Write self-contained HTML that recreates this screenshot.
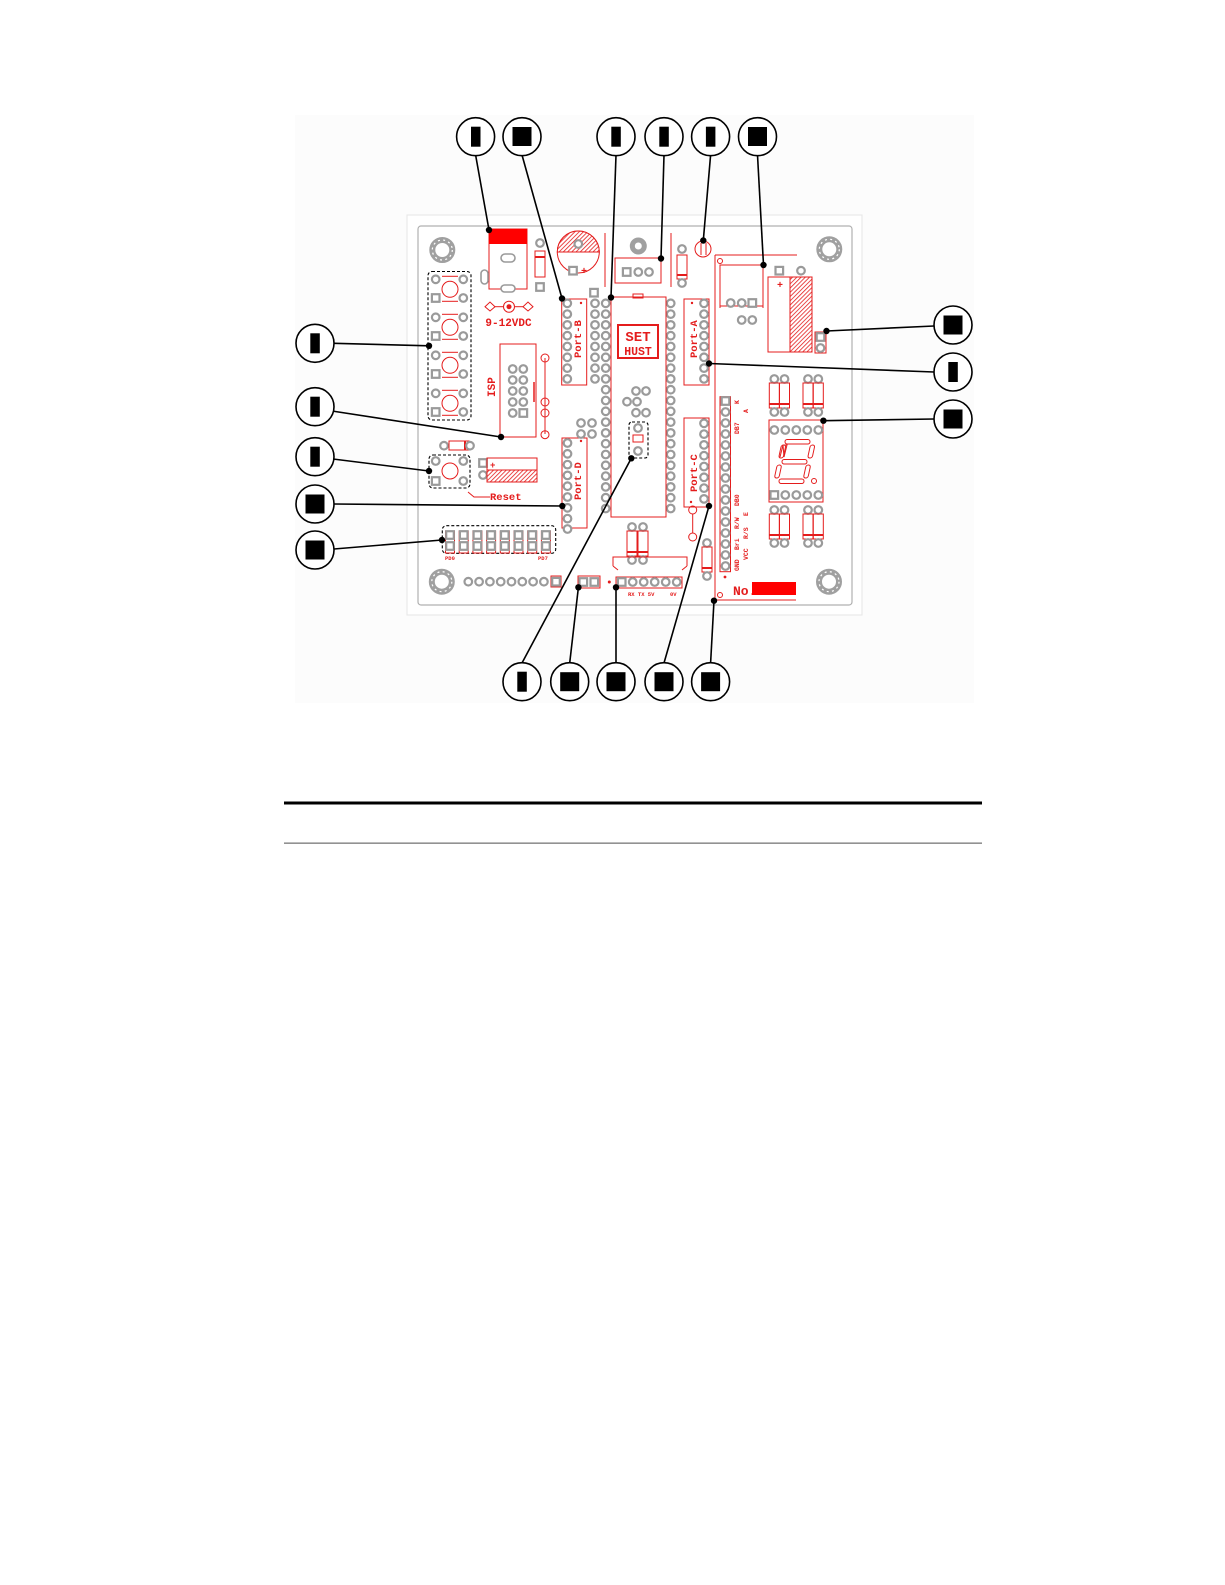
<!DOCTYPE html>
<html><head><meta charset="utf-8"><style>
html,body{margin:0;padding:0;background:#fff;width:1225px;height:1585px;overflow:hidden}
svg{position:absolute;left:0;top:0}
.pd{fill:#fff;stroke:#9a9a9a;stroke-width:2.2}
.r{fill:none;stroke:#e41c1c;stroke-width:1}
.rt{fill:#e41c1c;font-family:"Liberation Mono",monospace;font-weight:bold}
.cl{fill:#fff;stroke:#000;stroke-width:1.6}
.ln{stroke:#000;stroke-width:1.6;fill:none}
.dt{fill:#000}
</style></head><body>
<svg width="1225" height="1585" viewBox="0 0 1225 1585" xmlns="http://www.w3.org/2000/svg">
<defs>
<pattern id="h" width="3" height="3" patternUnits="userSpaceOnUse" patternTransform="rotate(45)"><rect width="3" height="3" fill="#fff"/><line x1="0" y1="0" x2="0" y2="3" stroke="#e41c1c" stroke-width="1.6"/></pattern>
<g id="p"><circle r="3.8" class="pd"/></g>
<g id="s"><rect x="-3.8" y="-3.8" width="7.6" height="7.6" class="pd"/></g>
<g id="col8"><use href="#p" y="0"/><use href="#p" y="10.8"/><use href="#p" y="21.6"/><use href="#p" y="32.4"/><use href="#p" y="43.2"/><use href="#p" y="54"/><use href="#p" y="64.8"/><use href="#p" y="75.6"/></g>
<g id="hole"><circle r="10" fill="none" stroke="#a0a0a0" stroke-width="6"/><circle r="10" fill="none" stroke="#fff" stroke-width="1.2" stroke-dasharray="2 3.3"/></g>
<g id="sw"><use href="#p" x="435.7" y="0"/><use href="#p" x="463.3" y="0"/><use href="#s" x="435.7" y="18.7"/><use href="#p" x="463.3" y="18.7"/><circle cx="450" cy="10" r="8" class="r"/><line x1="442" y1="-3" x2="458" y2="-3" class="r"/><line x1="442" y1="22" x2="458" y2="22" class="r"/></g>
<g id="dsw"><rect x="-4.5" y="-4" width="9" height="22" class="r"/><use href="#s" y="0"/><use href="#s" y="11"/></g>
<g id="res"><use href="#p" y="0"/><rect x="-5" y="4" width="10" height="25" class="r" fill="#fff"/><line x1="-5" y1="25" x2="5" y2="25" stroke="#e41c1c" stroke-width="2"/><use href="#p" y="33"/></g>
</defs>

<!-- image area -->
<rect x="295" y="115" width="679" height="588" fill="#fcfcfc"/>
<!-- board -->
<rect x="407" y="215" width="455" height="400" fill="#fff" stroke="#e6e6e6" stroke-width="1"/>
<rect x="418" y="226" width="434" height="379" rx="3" fill="#fff" stroke="#b0b0b0" stroke-width="1.2"/>

<!-- mount holes -->
<use href="#hole" x="442.3" y="250"/>
<use href="#hole" x="829.3" y="249.3"/>
<use href="#hole" x="441.8" y="581.7"/>
<use href="#hole" x="829" y="581.7"/>

<!-- 4 switches -->
<rect x="428" y="271.5" width="43" height="148.5" rx="4" fill="none" stroke="#000" stroke-width="1.1" stroke-dasharray="3 2"/>
<use href="#sw" y="279.3"/><use href="#sw" y="317.3"/><use href="#sw" y="355.3"/><use href="#sw" y="393.3"/>

<!-- reset -->
<use href="#p" x="444" y="445.7"/><rect x="449" y="441" width="20" height="9" class="r"/><line x1="465" y1="441" x2="465" y2="450" stroke="#e41c1c" stroke-width="2"/><use href="#p" x="470" y="445.7"/>
<rect x="429" y="455" width="41" height="33" rx="4" fill="none" stroke="#000" stroke-width="1.1" stroke-dasharray="3 2"/>
<use href="#p" x="435.7" y="461"/><use href="#p" x="463.3" y="461"/><use href="#s" x="435.7" y="481"/><use href="#p" x="463.3" y="481"/>
<circle cx="450" cy="471" r="8" class="r"/>
<path d="M468 492 L474 497 L490 497" class="r"/>
<text x="490" y="500" class="rt" font-size="10.5">Reset</text>
<!-- horizontal cap -->
<use href="#s" x="483" y="463"/><use href="#p" x="483" y="475"/>
<rect x="487" y="458" width="50" height="24" class="r"/><rect x="487" y="470" width="50" height="12" fill="url(#h)" stroke="#e41c1c" stroke-width="1"/>
<text x="490" y="468" class="rt" font-size="9" font-weight="normal">+</text>

<!-- power jack -->
<rect x="489" y="229" width="38" height="60" class="r"/>
<rect x="489" y="229" width="38" height="15" fill="#f00"/>
<rect x="501" y="254" width="14" height="8" rx="4" fill="#fff" stroke="#9a9a9a" stroke-width="1.6"/>
<rect x="481" y="270" width="7" height="14" rx="3.5" fill="#fff" stroke="#9a9a9a" stroke-width="1.6"/>
<rect x="501" y="285" width="14" height="7" rx="3.5" fill="#fff" stroke="#9a9a9a" stroke-width="1.6"/>
<use href="#p" x="540" y="243"/><rect x="535" y="251" width="10" height="26" class="r"/><line x1="535" y1="257" x2="545" y2="257" stroke="#e41c1c" stroke-width="2"/><use href="#s" x="540" y="287"/>
<!-- power symbol -->
<path d="M485 306.7 L490 302 L495 306.7 L490 311 Z M523 306.7 L528 302 L533 306.7 L528 311 Z" class="r"/>
<line x1="495" y1="306.7" x2="503" y2="306.7" class="r"/><line x1="515" y1="306.7" x2="523" y2="306.7" class="r"/>
<circle cx="509" cy="306.7" r="5.5" class="r"/><circle cx="509" cy="306.7" r="2.5" fill="#e41c1c"/>
<text x="508.5" y="326" class="rt" font-size="11" text-anchor="middle">9-12VDC</text>

<!-- elec cap -->
<circle cx="578.3" cy="252" r="21" class="r"/>
<path d="M557.3 252 A21 21 0 0 1 599.3 252 Z" fill="url(#h)" stroke="#e41c1c"/>
<use href="#p" x="578.3" y="244"/>
<use href="#s" x="573" y="270.7"/><text x="581" y="274" class="rt" font-size="10" font-weight="normal">+</text>

<!-- ISP -->
<rect x="500" y="344" width="36" height="93" class="r"/>
<line x1="534" y1="382" x2="534" y2="402" stroke="#e41c1c" stroke-width="1.5"/>
<use href="#p" x="512.7" y="369"/><use href="#p" x="523.3" y="369"/>
<use href="#p" x="512.7" y="380"/><use href="#p" x="523.3" y="380"/>
<use href="#p" x="512.7" y="391"/><use href="#p" x="523.3" y="391"/>
<use href="#p" x="512.7" y="402"/><use href="#p" x="523.3" y="402"/>
<use href="#p" x="512.7" y="413"/><use href="#s" x="523.3" y="413"/>
<text transform="translate(495,397) rotate(-90)" class="rt" font-size="11">ISP</text>
<line x1="545" y1="358" x2="545" y2="434" class="r"/>
<circle cx="545" cy="358" r="4" class="r" fill="#fff"/>
<circle cx="545" cy="402" r="4" class="r" fill="#fff"/>
<circle cx="545" cy="413" r="4" class="r" fill="#fff"/>
<circle cx="545" cy="434.7" r="4" class="r" fill="#fff"/>

<!-- Port-B -->
<rect x="561.7" y="299" width="25" height="86" class="r"/>
<use href="#col8" x="567.3" y="303.3"/>
<text transform="translate(581,358) rotate(-90)" class="rt" font-size="10.5">Port-B</text>
<circle cx="581" cy="303" r="1.2" fill="#e41c1c"/>
<!-- Port-D -->
<rect x="562" y="438" width="25" height="90" class="r"/>
<use href="#col8" x="567.5" y="443"/>
<use href="#p" x="567.5" y="529"/>
<text transform="translate(581,500) rotate(-90)" class="rt" font-size="10.5">Port-D</text>
<circle cx="581" cy="441" r="1.2" fill="#e41c1c"/>

<!-- chip area columns -->
<use href="#s" x="594" y="292.7"/>
<line x1="605" y1="233" x2="605" y2="287" class="r"/>
<line x1="671" y1="233" x2="671" y2="287" class="r"/>
<use href="#col8" x="595" y="303.3"/>
<use href="#col8" x="605.7" y="303.3"/>
<use href="#col8" x="605.7" y="389.7"/>
<use href="#p" x="605.7" y="476.1"/><use href="#p" x="605.7" y="486.9"/><use href="#p" x="605.7" y="497.7"/><use href="#p" x="605.7" y="508.5"/>
<use href="#col8" x="670.7" y="303.3"/>
<use href="#col8" x="670.7" y="389.7"/>
<use href="#p" x="670.7" y="476.1"/><use href="#p" x="670.7" y="486.9"/><use href="#p" x="670.7" y="497.7"/><use href="#p" x="670.7" y="508.5"/>
<!-- o=o small pairs -->
<g><use href="#p" x="581" y="423"/><use href="#p" x="592" y="423"/><use href="#p" x="581" y="434"/><use href="#p" x="592" y="434"/>
<use href="#p" x="636" y="391"/><use href="#p" x="646" y="391"/><use href="#p" x="627" y="401.7"/><use href="#p" x="637" y="401.7"/><use href="#p" x="636" y="412.7"/><use href="#p" x="646" y="412.7"/></g>
<!-- chip -->
<rect x="611" y="297" width="55" height="220" class="r"/>
<rect x="633" y="294" width="10" height="4" class="r"/>
<rect x="618" y="325" width="40" height="33" fill="none" stroke="#e41c1c" stroke-width="2"/>
<text x="638" y="341" class="rt" font-size="14" text-anchor="middle">SET</text>
<text x="638" y="355" class="rt" font-size="11.5" font-weight="normal" text-anchor="middle">HUST</text>
<!-- crystal -->
<rect x="629" y="422" width="19" height="36" rx="3" fill="#fff" stroke="#000" stroke-width="1.1" stroke-dasharray="3 2"/>
<use href="#p" x="638" y="428"/><rect x="633" y="435" width="10" height="7" class="r"/><use href="#p" x="638" y="451"/>

<!-- regulator -->
<circle cx="638.3" cy="246" r="6" fill="none" stroke="#a0a0a0" stroke-width="5"/>
<rect x="615" y="258" width="46" height="25" class="r"/>
<use href="#s" x="626.7" y="272"/><use href="#p" x="638.3" y="272"/><use href="#p" x="649" y="272"/>
<!-- diode -->
<use href="#p" x="682" y="249"/><rect x="677" y="255" width="10" height="24" class="r"/><line x1="677" y1="275" x2="687" y2="275" stroke="#e41c1c" stroke-width="2"/><use href="#p" x="682" y="283"/>
<!-- LED -->
<circle cx="703" cy="249" r="8" class="r"/><line x1="701" y1="243" x2="701" y2="255" class="r"/><line x1="706" y1="243" x2="706" y2="255" class="r"/>

<!-- Port-A -->
<rect x="684" y="299" width="25" height="86" class="r"/>
<use href="#col8" x="704" y="303.3"/>
<text transform="translate(697,358) rotate(-90)" class="rt" font-size="10.5">Port-A</text>
<circle cx="692" cy="303" r="1.2" fill="#e41c1c"/>
<!-- Port-C -->
<rect x="684" y="418" width="25" height="89" class="r"/>
<use href="#col8" x="704" y="423.3"/>
<text transform="translate(697,492) rotate(-90)" class="rt" font-size="10.5">Port-C</text>
<circle cx="691" cy="502" r="1.2" fill="#e41c1c"/>
<circle cx="692.7" cy="510" r="4" class="r" fill="#fff"/><line x1="692.7" y1="514" x2="692.7" y2="533" class="r"/><circle cx="692.7" cy="537" r="4" class="r" fill="#fff"/>

<!-- relay/ box -->
<line x1="715" y1="255" x2="797" y2="255" class="r"/>
<line x1="715" y1="255" x2="715" y2="600" class="r"/>
<line x1="715" y1="600" x2="796" y2="600" class="r"/>
<path d="M720 308 L720 265 L763 265 L763 308" class="r"/>
<line x1="720" y1="306" x2="763" y2="306" class="r"/>
<circle cx="720" cy="261" r="2.5" class="r"/>
<use href="#p" x="730.7" y="303"/><use href="#p" x="741.7" y="303"/><use href="#s" x="752.3" y="303"/>
<use href="#p" x="741.7" y="320"/><use href="#p" x="752.3" y="320"/>
<!-- big cap -->
<use href="#s" x="779.3" y="270.7"/><use href="#p" x="801" y="270.7"/>
<rect x="768" y="277" width="44" height="75" class="r"/>
<rect x="790" y="277" width="22" height="75" fill="url(#h)" stroke="#e41c1c"/>
<text x="777" y="288" class="rt" font-size="10" font-weight="normal">+</text>
<rect x="815" y="332" width="11" height="21" class="r"/>
<use href="#s" x="820.5" y="337"/><use href="#p" x="820.5" y="348"/>

<!-- LCD header -->
<rect x="720" y="396.7" width="10.5" height="175" class="r"/>
<g>
<use href="#s" x="725.5" y="401"/><use href="#p" x="725.5" y="412"/><use href="#p" x="725.5" y="423"/><use href="#p" x="725.5" y="434"/><use href="#p" x="725.5" y="445"/><use href="#p" x="725.5" y="456"/><use href="#p" x="725.5" y="467"/><use href="#p" x="725.5" y="478"/><use href="#p" x="725.5" y="489"/><use href="#p" x="725.5" y="500"/><use href="#p" x="725.5" y="511"/><use href="#p" x="725.5" y="522"/><use href="#p" x="725.5" y="533"/><use href="#p" x="725.5" y="544"/><use href="#p" x="725.5" y="555"/><use href="#p" x="725.5" y="566"/>
</g>
<g class="rt" font-size="6.5" font-weight="normal">
<text transform="translate(739,404) rotate(-90)">K</text>
<text transform="translate(739,434) rotate(-90)">DB7</text>
<text transform="translate(739,506) rotate(-90)">DB0</text>
<text transform="translate(739,529) rotate(-90)">R/W</text>
<text transform="translate(739,550) rotate(-90)">Bri</text>
<text transform="translate(739,571) rotate(-90)">GND</text>
<text transform="translate(748,413) rotate(-90)">A</text>
<text transform="translate(748,516) rotate(-90)">E</text>
<text transform="translate(748,539) rotate(-90)">R/S</text>
<text transform="translate(748,560) rotate(-90)">VCC</text>
</g>
<circle cx="725" cy="577" r="1.4" fill="#e41c1c"/>

<!-- resistor pairs right -->
<use href="#res" x="774.3" y="379"/><use href="#res" x="784.5" y="379"/>
<use href="#res" x="808" y="379"/><use href="#res" x="818.3" y="379"/>
<use href="#res" x="774.3" y="510"/><use href="#res" x="784.5" y="510"/>
<use href="#res" x="808" y="510"/><use href="#res" x="818.3" y="510"/>
<!-- 7 seg -->
<rect x="769" y="420" width="54" height="82" class="r"/>
<use href="#p" x="774.3" y="430"/><use href="#p" x="785.3" y="430"/><use href="#p" x="796.3" y="430"/><use href="#p" x="807.3" y="430"/><use href="#p" x="818.3" y="430"/>
<use href="#s" x="774.3" y="495"/><use href="#p" x="785.3" y="495"/><use href="#p" x="796.3" y="495"/><use href="#p" x="807.3" y="495"/><use href="#p" x="818.3" y="495"/>
<g class="r" stroke-width="0.9">
<rect x="785" y="439.5" width="25" height="4.5" rx="2.2"/>
<rect x="782" y="459.5" width="25" height="4.5" rx="2.2"/>
<rect x="779" y="479" width="25" height="4.5" rx="2.2"/>
<path d="M783 445 L780 457 M787 445 L784 457 L783 445 Z" />
<rect x="780" y="445" width="4.5" height="13" rx="2.2" transform="skewX(-12) translate(96,0)"/>
<rect x="809" y="445" width="4.5" height="13" rx="2.2" transform="skewX(-12) translate(96,0)"/>
<rect x="777" y="465" width="4.5" height="13" rx="2.2" transform="skewX(-12) translate(99,0)"/>
<rect x="806" y="465" width="4.5" height="13" rx="2.2" transform="skewX(-12) translate(99,0)"/>
<circle cx="814" cy="481" r="2.5"/>
</g>

<!-- center bottom resistors & bracket -->
<use href="#res" x="632" y="527"/><use href="#res" x="643" y="527"/>
<path d="M613 566 L613 557 L687 557 L687 566 M613 566 L618 570 M687 566 L682 570" class="r"/>
<rect x="616" y="577" width="66" height="11" class="r"/>
<use href="#s" x="621.7" y="582"/><use href="#p" x="632.7" y="582"/><use href="#p" x="643.7" y="582"/><use href="#p" x="654.7" y="582"/><use href="#p" x="665.7" y="582"/><use href="#p" x="676.7" y="582"/>
<circle cx="609.3" cy="582" r="1.5" fill="#e41c1c"/>
<g class="rt" font-size="5.5" font-weight="normal"><text x="628" y="596">RX TX 5V</text><text x="670" y="596">0V</text></g>
<!-- diode lower -->
<use href="#res" x="707" y="543"/>
<!-- No. -->
<text x="733" y="595" class="rt" font-size="13">No.</text>
<rect x="752" y="582" width="44" height="13" fill="#f00"/>
<circle cx="720" cy="595" r="2.5" class="r"/>

<!-- DIP switch -->
<rect x="442.3" y="525.7" width="113.4" height="27.6" rx="4" fill="none" stroke="#000" stroke-width="1.1" stroke-dasharray="3 2"/>
<use href="#dsw" x="450" y="535"/><use href="#dsw" x="463.7" y="535"/><use href="#dsw" x="477.4" y="535"/><use href="#dsw" x="491.1" y="535"/><use href="#dsw" x="504.8" y="535"/><use href="#dsw" x="518.5" y="535"/><use href="#dsw" x="532.2" y="535"/><use href="#dsw" x="545.9" y="535"/>
<g class="rt" font-size="5.5" font-weight="normal"><text x="445" y="560">PD0</text><text x="538" y="560">PD7</text></g>
<!-- bottom header row -->
<use href="#p" x="468.3" y="581.7"/><use href="#p" x="479.1" y="581.7"/><use href="#p" x="489.9" y="581.7"/><use href="#p" x="500.7" y="581.7"/><use href="#p" x="511.5" y="581.7"/><use href="#p" x="522.3" y="581.7"/><use href="#p" x="533.1" y="581.7"/><use href="#p" x="543.9" y="581.7"/>
<rect x="551" y="576" width="10" height="11" class="r"/><use href="#s" x="556" y="581.7"/>
<rect x="578" y="576" width="22" height="12" class="r"/><use href="#s" x="583.3" y="582"/><use href="#s" x="594.3" y="582"/>

<!-- leader lines -->
<g class="ln">
<line x1="475.6" y1="155" x2="489" y2="230"/>
<line x1="522" y1="155" x2="562" y2="298.5"/>
<line x1="616" y1="155" x2="611" y2="297.5"/>
<line x1="664" y1="155" x2="661" y2="258.5"/>
<line x1="710.6" y1="155" x2="703.3" y2="240.5"/>
<line x1="757.5" y1="155" x2="763.5" y2="265"/>
<line x1="934" y1="326" x2="826.5" y2="331"/>
<line x1="934" y1="372" x2="709" y2="363.5"/>
<line x1="934" y1="419" x2="823.4" y2="420.7"/>
<line x1="334" y1="343.3" x2="429" y2="345.8"/>
<line x1="332" y1="411" x2="501" y2="437"/>
<line x1="333" y1="459" x2="429" y2="471"/>
<line x1="334" y1="504" x2="562.3" y2="506"/>
<line x1="334" y1="549" x2="442" y2="540"/>
<line x1="522" y1="663" x2="631.3" y2="458.3"/>
<line x1="569.7" y1="663" x2="578.4" y2="587.3"/>
<line x1="616" y1="663" x2="616" y2="587.3"/>
<line x1="664" y1="663" x2="709" y2="506"/>
<line x1="710.6" y1="663" x2="714" y2="600.7"/>
</g>
<g class="dt">
<circle cx="489" cy="230" r="3.2"/><circle cx="562" cy="298.5" r="3.2"/><circle cx="611" cy="297.5" r="3.2"/><circle cx="661" cy="258.5" r="3.2"/><circle cx="703.3" cy="240.5" r="3.2"/><circle cx="763.5" cy="265" r="3.2"/>
<circle cx="826.5" cy="331" r="3.2"/><circle cx="709" cy="363.5" r="3.2"/><circle cx="823.4" cy="420.7" r="3.2"/>
<circle cx="429" cy="345.8" r="3.2"/><circle cx="501" cy="437" r="3.2"/><circle cx="429" cy="471" r="3.2"/><circle cx="562.3" cy="506" r="3.2"/><circle cx="442" cy="540" r="3.2"/>
<circle cx="631.3" cy="458.3" r="3.2"/><circle cx="578.4" cy="587.3" r="3.2"/><circle cx="616" cy="587.3" r="3.2"/><circle cx="709" cy="506" r="3.2"/><circle cx="714" cy="600.7" r="3.2"/>
</g>

<!-- callout circles: narrow (n) / wide (w) -->
<g>
<circle cx="475.6" cy="136.7" r="19" class="cl"/><rect x="471" y="126.7" width="9.5" height="20" fill="#000"/>
<circle cx="522" cy="136.7" r="19" class="cl"/><rect x="512.5" y="127" width="19" height="19" fill="#000"/>
<circle cx="616" cy="136.7" r="19" class="cl"/><rect x="611.3" y="126.7" width="9.5" height="20" fill="#000"/>
<circle cx="664" cy="136.7" r="19" class="cl"/><rect x="659.3" y="126.7" width="9.5" height="20" fill="#000"/>
<circle cx="710.6" cy="136.7" r="19" class="cl"/><rect x="705.9" y="126.7" width="9.5" height="20" fill="#000"/>
<circle cx="757.5" cy="136.7" r="19" class="cl"/><rect x="748" y="127" width="19" height="19" fill="#000"/>

<circle cx="953" cy="325" r="19" class="cl"/><rect x="943.5" y="315.5" width="19" height="19" fill="#000"/>
<circle cx="953" cy="372" r="19" class="cl"/><rect x="948.3" y="362" width="9.5" height="20" fill="#000"/>
<circle cx="953" cy="419" r="19" class="cl"/><rect x="943.5" y="409.5" width="19" height="19" fill="#000"/>

<circle cx="315" cy="343.3" r="19" class="cl"/><rect x="310.3" y="333.3" width="9.5" height="20" fill="#000"/>
<circle cx="315" cy="406.7" r="19" class="cl"/><rect x="310.3" y="396.7" width="9.5" height="20" fill="#000"/>
<circle cx="315" cy="456.7" r="19" class="cl"/><rect x="310.3" y="446.7" width="9.5" height="20" fill="#000"/>
<circle cx="315" cy="504" r="19" class="cl"/><rect x="305.5" y="494.5" width="19" height="19" fill="#000"/>
<circle cx="315" cy="550" r="19" class="cl"/><rect x="305.5" y="540.5" width="19" height="19" fill="#000"/>

<circle cx="522" cy="681.7" r="19" class="cl"/><rect x="517.3" y="671.7" width="9.5" height="20" fill="#000"/>
<circle cx="569.7" cy="681.7" r="19" class="cl"/><rect x="560.2" y="672.2" width="19" height="19" fill="#000"/>
<circle cx="616" cy="681.7" r="19" class="cl"/><rect x="606.5" y="672.2" width="19" height="19" fill="#000"/>
<circle cx="664" cy="681.7" r="19" class="cl"/><rect x="654.5" y="672.2" width="19" height="19" fill="#000"/>
<circle cx="710.6" cy="681.7" r="19" class="cl"/><rect x="701.1" y="672.2" width="19" height="19" fill="#000"/>
</g>

<!-- rules below -->
<rect x="284" y="801.5" width="698" height="3" fill="#000"/>
<rect x="284" y="842.5" width="698" height="1.3" fill="#777"/>
</svg>
</body></html>
